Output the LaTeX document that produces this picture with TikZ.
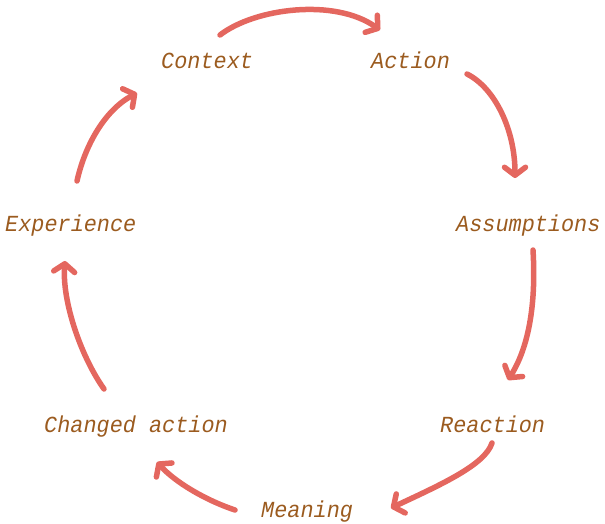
\documentclass[tikz,border=0pt]{standalone}
\usepackage{fontspec}
\setmonofont{Liberation Mono}
\usetikzlibrary{arrows.meta}
\definecolor{txtc}{HTML}{9B5B1F}
\definecolor{arrc}{HTML}{E4675F}
\tikzset{
  lbl/.style={anchor=base west, inner sep=0pt, text=txtc,
    font=\fontsize{23pt}{23pt}\selectfont\ttfamily\itshape\addfontfeature{FakeStretch=0.95}},
  flow/.style={draw=arrc, line width=5.5pt, line cap=round, line join=round,
    -{Straight Barb[length=8pt,width=21pt,line cap=round,line join=round]}}
}
\begin{document}
\begin{tikzpicture}[x=1pt,y=-1pt]
\useasboundingbox (0,0) rectangle (605,523);
% labels
\node[lbl] (ctx) at (161,68) {Context};
\node[lbl] (act) at (371,68) {Action};
\node[lbl] (ass) at (456,231) {Assumptions};
\node[lbl] (rea) at (440,432) {Reaction};
\node[lbl] (mea) at (261,517) {Meaning};
\node[lbl] (cha) at (44,432) {Changed action};
\node[lbl] (exp) at (5,231) {Experience};
% arrow ends
\coordinate (a1s) at (220,35);  \coordinate (a1e) at (380,30);
\coordinate (a2s) at (467,74);  \coordinate (a2e) at (515,178);
\coordinate (a3s) at (533,250); \coordinate (a3e) at (508,380);
\coordinate (a4s) at (492,443); \coordinate (a4e) at (391,508);
\coordinate (a5s) at (235,510); \coordinate (a5e) at (157,462);
\coordinate (a6s) at (104,389); \coordinate (a6e) at (65,261);
\coordinate (a7s) at (77,181);  \coordinate (a7e) at (137,93);
% arrows
\draw[flow] (a1s) .. controls (255,8) and (335,-2) .. (a1e);
\draw[flow] (a2s) .. controls (495,88) and (515,130) .. (a2e);
\draw[flow] (a3s) .. controls (536,300) and (530,345) .. (a3e);
\draw[flow] (a4s) .. controls (485,465) and (440,485) .. (a4e);
\draw[flow] (a5s) .. controls (205,500) and (175,482) .. (a5e);
\draw[flow] (a6s) .. controls (80,355) and (62,300) .. (a6e);
\draw[flow] (a7s) .. controls (85,145) and (105,110) .. (a7e);
\end{tikzpicture}
\end{document}
